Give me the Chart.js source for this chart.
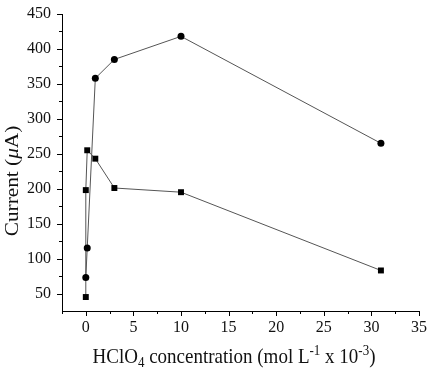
<!DOCTYPE html>
<html>
<head>
<meta charset="utf-8">
<script src="https://cdn.jsdelivr.net/npm/chart.js@4.4.1/dist/chart.umd.min.js"></script>
<style>
  html, body { margin: 0; padding: 0; background: #fff; }
  #wrap { width: 431px; height: 374px; position: relative; }
</style>
</head>
<body>
<div id="wrap"><canvas id="grafico" width="431" height="374"></canvas></div>
<script>
// concentracion HClO4 (mol L-1 x 10-3) y corriente (uA)
const xCirculos = [0, 0.15, 1, 3, 10, 31];
const yCirculos = [73, 115, 358, 385, 418, 265];
const xCuadros = [0, 0, 0.15, 1, 3, 10, 31];
const yCuadros = [45, 198, 255, 243, 201, 195, 83];

const xTicks = [0, 5, 10, 15, 20, 25, 30, 35];
const yTicks = [50, 100, 150, 200, 250, 300, 350, 400, 450];

const FUENTE = '"Liberation Serif", "Times New Roman", serif';
const ESTIRA = 1.12; // la imagen original esta algo estirada en vertical

const aPuntos = (xs, ys) => xs.map((x, i) => ({ x: x, y: ys[i] }));

// ticks menores y titulos con sub/superindices
const ejesPlugin = {
    id: 'ejesExtra',
    afterDraw(chart) {
        const ctx = chart.ctx;
        const sx = chart.scales.x, sy = chart.scales.y;
        const area = chart.chartArea;
        ctx.save();
        ctx.strokeStyle = '#000';
        ctx.lineWidth = 1;
        ctx.beginPath();
        for (let v = -2.5; v <= 35; v += 2.5) {
            const px = Math.round(sx.getPixelForValue(v)) + 0.5;
            const len = (v % 5 === 0) ? 5 : 3;
            ctx.moveTo(px, area.bottom);
            ctx.lineTo(px, area.bottom + len);
        }
        for (let v = 50; v <= 450; v += 25) {
            const py = Math.round(sy.getPixelForValue(v)) + 0.5;
            const len = (v % 50 === 0) ? 5 : 3;
            ctx.moveTo(area.left, py);
            ctx.lineTo(area.left - len, py);
        }
        ctx.stroke();
        ctx.restore();

        // titulo eje X
        ctx.save();
        ctx.fillStyle = '#111';
        ctx.textBaseline = 'alphabetic';
        const partes = [
            ['HClO', 19, 0], ['4', 13, 4], [' concentration (mol L', 19, 0],
            ['-1', 13, -7], [' x 10', 19, 0], ['-3', 13, -7], [')', 19, 0]
        ];
        let ancho = 0;
        partes.forEach(p => { ctx.font = p[1] + 'px ' + FUENTE; ancho += ctx.measureText(p[0]).width; });
        ctx.translate(234, 363);
        ctx.scale(1, ESTIRA);
        let x = -ancho / 2;
        partes.forEach(p => {
            ctx.font = p[1] + 'px ' + FUENTE;
            ctx.fillText(p[0], x, p[2]);
            x += ctx.measureText(p[0]).width;
        });
        ctx.restore();

        // titulo eje Y
        ctx.save();
        ctx.fillStyle = '#111';
        ctx.translate(18, 181);
        ctx.rotate(-Math.PI / 2);
        ctx.scale(ESTIRA, 1);
        const partesY = [['Current (', ''], ['\u03BC', 'italic '], ['A)', '']];
        let anchoY = 0;
        partesY.forEach(p => { ctx.font = p[1] + '19px ' + FUENTE; anchoY += ctx.measureText(p[0]).width; });
        let y0 = -anchoY / 2;
        partesY.forEach(p => {
            ctx.font = p[1] + '19px ' + FUENTE;
            ctx.fillText(p[0], y0, 0);
            y0 += ctx.measureText(p[0]).width;
        });
        ctx.restore();
    }
};

new Chart(document.getElementById('grafico'), {
    type: 'scatter',
    data: {
        datasets: [
            {
                data: aPuntos(xCirculos, yCirculos),
                showLine: true,
                borderColor: '#555',
                borderWidth: 1,
                pointStyle: 'circle',
                pointRadius: 3.5,
                pointBackgroundColor: '#000',
                pointBorderColor: '#000',
                pointBorderWidth: 0
            },
            {
                data: aPuntos(xCuadros, yCuadros),
                showLine: true,
                borderColor: '#555',
                borderWidth: 1,
                pointStyle: 'rect',
                pointRadius: 4.2,
                pointBackgroundColor: '#000',
                pointBorderColor: '#000',
                pointBorderWidth: 0
            }
        ]
    },
    options: {
        responsive: false,
        animation: false,
        layout: { padding: { top: 14, right: 12, left: 0, bottom: 0 } },
        plugins: { legend: { display: false }, tooltip: { enabled: false } },
        scales: {
            x: {
                type: 'linear',
                min: -2.5,
                max: 35,
                afterBuildTicks: (s) => { s.ticks = xTicks.map(v => ({ value: v })); },
                afterFit: (s) => { s.height = 63; s.paddingRight = 0; s.paddingLeft = 0; },
                ticks: { color: '#111', font: { family: FUENTE, size: 16 }, padding: 7, maxRotation: 0 },
                grid: { display: true, drawOnChartArea: false, drawTicks: false, tickLength: 5 },
                border: { color: '#000', width: 1 }
            },
            y: {
                type: 'linear',
                min: 25,
                max: 450,
                afterBuildTicks: (s) => { s.ticks = yTicks.map(v => ({ value: v })); },
                afterFit: (s) => { s.width = 62; s.paddingTop = 0; s.paddingBottom = 0; },
                ticks: { color: '#111', font: { family: FUENTE, size: 16 }, padding: 11 },
                grid: { display: true, drawOnChartArea: false, drawTicks: false, tickLength: 5 },
                border: { color: '#000', width: 1 }
            }
        }
    },
    plugins: [ejesPlugin]
});
</script>
</body>
</html>
